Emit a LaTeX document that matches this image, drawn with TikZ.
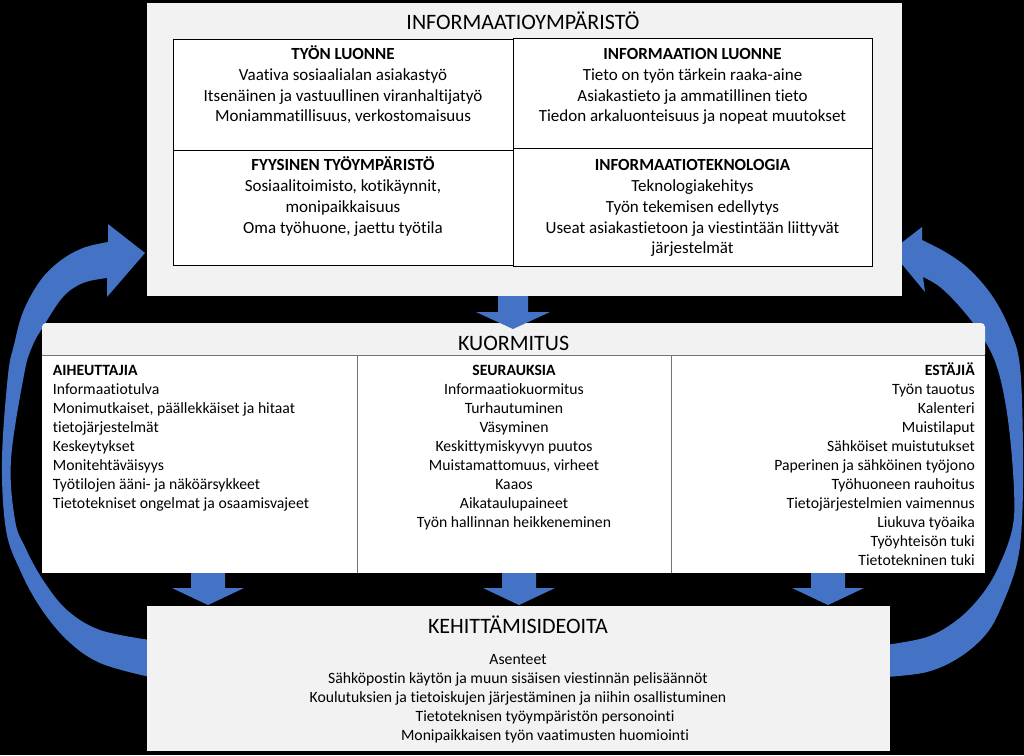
\documentclass[tikz,border=0pt]{standalone}
\usepackage{fontspec}
\setmainfont{Carlito}[Ligatures={NoCommon}]
\definecolor{boxgray}{HTML}{F2F2F2}
\definecolor{arrowblue}{HTML}{4472C4}
\definecolor{linegray}{HTML}{737373}
\begin{document}
\begin{tikzpicture}[x=1pt,y=-1pt,
  panel/.style={fill=boxgray,draw=none},
  cell/.style={draw=black,line width=1.3pt,fill=white},
  blockarrow/.style={fill=arrowblue,draw=none},
  divider/.style={draw=linegray,line width=0.9pt},
  bigtitle/.style={font=\fontsize{22}{26}\selectfont,anchor=base,inner sep=0},
  topline/.style={font=\fontsize{17}{21}\selectfont,anchor=base,inner sep=0},
  tophead/.style={font=\fontsize{17}{21}\selectfont\bfseries,anchor=base,inner sep=0},
  colline/.style={font=\fontsize{15.7}{19}\selectfont,inner sep=0},
  colhead/.style={font=\fontsize{15.7}{19}\selectfont\bfseries,inner sep=0},
  botline/.style={font=\fontsize{15.7}{19}\selectfont,anchor=base,inner sep=0}]
% background and page size
\fill[black] (0,0) rectangle (1024,755);
\useasboundingbox (0,0) rectangle (1024,755);

% ---- big curved arrows ----
\fill[blockarrow] (150,677) -- plot[smooth,tension=0.6] coordinates {(150,677) (100,663) (67,640) (40,607) (20,570) (6,530) (2,460) (8,375) (14,345) (23,312) (40,281) (60,261) (83,248) (108,242)}
  -- (108,224) -- (145,253) -- (107,297) -- (107,278)
  -- plot[smooth,tension=0.6] coordinates {(107,278) (83,283) (63,297) (43,327) (32,347) (24,375) (11,460) (15,520) (25,547) (43,580) (67,610) (100,630) (150,640)} -- cycle;
\fill[blockarrow] (885,677) -- plot[smooth,tension=0.6] coordinates {(885,677) (927,672) (960,657) (987,633) (1003,603) (1017,563) (1022,520) (1023,450) (1020,367) (1010,330) (993,297) (970,270) (947,253) (922,240)}
  -- (922,227) -- (891,251) -- (925,292) -- (923,277)
  -- plot[smooth,tension=0.6] coordinates {(923,277) (940,287) (960,307) (980,333) (997,367) (1008,420) (1014,490) (1012,530) (997,570) (980,597) (957,620) (927,637) (885,645)} -- cycle;

% ---- INFORMAATIOYMPÄRISTÖ ----
\node[panel,anchor=north west,inner sep=0,minimum width=755,minimum height=293] (env) at (147,3) {};
\node[bigtitle] (envtitle) at (523,29) {INFORMAATIOYMPÄRISTÖ};
\node[cell,anchor=north west,inner sep=0,minimum width=340,minimum height=111] (c1) at (173,39) {};
\node[cell,anchor=north west,inner sep=0,minimum width=340,minimum height=115] (c3) at (173,150) {};
\node[cell,anchor=north west,inner sep=0,minimum width=359,minimum height=110] (c2) at (513,38) {};
\node[cell,anchor=north west,inner sep=0,minimum width=359,minimum height=118] (c4) at (513,148) {};

\node[tophead] (c1h) at (343,59.5) {TYÖN LUONNE};
\foreach \t [count=\i] in {{Vaativa sosiaalialan asiakastyö},{Itsenäinen ja vastuullinen viranhaltijatyö},{Moniammatillisuus, verkostomaisuus}}
  \node[topline] (c1l\i) at ({343},{59.5+20.8*\i}) {\t};
\node[tophead] (c2h) at (692.5,59.5) {INFORMAATION LUONNE};
\foreach \t [count=\i] in {{Tieto on työn tärkein raaka-aine},{Asiakastieto ja ammatillinen tieto},{Tiedon arkaluonteisuus ja nopeat muutokset}}
  \node[topline] (c2l\i) at ({692.5},{59.5+20.8*\i}) {\t};
\node[tophead] (c3h) at (343,170.7) {FYYSINEN TYÖYMPÄRISTÖ};
\foreach \t [count=\i] in {{Sosiaalitoimisto, kotikäynnit,},{monipaikkaisuus},{Oma työhuone, jaettu työtila}}
  \node[topline] (c3l\i) at ({343},{170.7+20.8*\i}) {\t};
\node[tophead] (c4h) at (692.5,170.7) {INFORMAATIOTEKNOLOGIA};
\foreach \t [count=\i] in {{Teknologiakehitys},{Työn tekemisen edellytys},{Useat asiakastietoon ja viestintään liittyvät},{järjestelmät}}
  \node[topline] (c4l\i) at ({692.5},{170.7+20.8*\i}) {\t};

% ---- KUORMITUS ----
\fill[boxgray,rounded corners=4] (42,323) rectangle (985,358);
\node[fill=white,anchor=north west,inner sep=0,minimum width=943,minimum height=218] (load) at (42,355) {};
\draw[divider] (42,355) -- (985,355);
\draw[divider] (357,355) -- (357,573);
\draw[divider] (671,355) -- (671,573);
\node[bigtitle] (loadtitle) at (513.6,350) {KUORMITUS};

\node[colhead,anchor=base west] (k1h) at (52.7,375) {AIHEUTTAJIA};
\foreach \t [count=\i] in {{Informaatiotulva},{Monimutkaiset, päällekkäiset ja hitaat},{tietojärjestelmät},{Keskeytykset},{Monitehtäväisyys},{Työtilojen ääni- ja näköärsykkeet},{Tietotekniset ongelmat ja osaamisvajeet}}
  \node[colline,anchor=base west] (k1l\i) at ({52.7},{375+19*\i}) {\t};
\node[colhead,anchor=base] (k2h) at (514,375) {SEURAUKSIA};
\foreach \t [count=\i] in {{Informaatiokuormitus},{Turhautuminen},{Väsyminen},{Keskittymiskyvyn puutos},{Muistamattomuus, virheet},{Kaaos},{Aikataulupaineet},{Työn hallinnan heikkeneminen}}
  \node[colline,anchor=base] (k2l\i) at ({514},{375+19*\i}) {\t};
\node[colhead,anchor=base east] (k3h) at (975,375) {ESTÄJIÄ};
\foreach \t [count=\i] in {{Työn tauotus},{Kalenteri},{Muistilaput},{Sähköiset muistutukset},{Paperinen ja sähköinen työjono},{Työhuoneen rauhoitus},{Tietojärjestelmien vaimennus},{Liukuva työaika},{Työyhteisön tuki},{Tietotekninen tuki}}
  \node[colline,anchor=base east] (k3l\i) at ({975},{375+19*\i}) {\t};

% ---- KEHITTÄMISIDEOITA ----
\node[panel,anchor=north west,inner sep=0,minimum width=743,minimum height=145] (dev) at (147,606) {};
\node[bigtitle] (devtitle) at (518,633) {KEHITTÄMISIDEOITA};
\node[botline] (d1) at (518,664) {Asenteet};
\node[botline] (d2) at (518,683) {Sähköpostin käytön ja muun sisäisen viestinnän pelisäännöt};
\node[botline] (d3) at (518,702) {Koulutuksien ja tietoiskujen järjestäminen ja niihin osallistuminen};
\node[botline] (d4) at (545,721) {Tietoteknisen työympäristön personointi};
\node[botline] (d5) at (545,740) {Monipaikkaisen työn vaatimusten huomiointi};

% ---- block arrows ----
\fill[blockarrow] (498,296) -- (528,296) -- (528,312) -- (550,312) -- (513,329) -- (476,312) -- (498,312) -- cycle;
\foreach \cx [count=\i] in {208,519,828}
  \fill[blockarrow] ({\cx-17},573) -- ({\cx+17},573) -- ({\cx+17},588) -- ({\cx+36},588) -- ({\cx},605) -- ({\cx-36},588) -- ({\cx-17},588) -- cycle;
\end{tikzpicture}
\end{document}
